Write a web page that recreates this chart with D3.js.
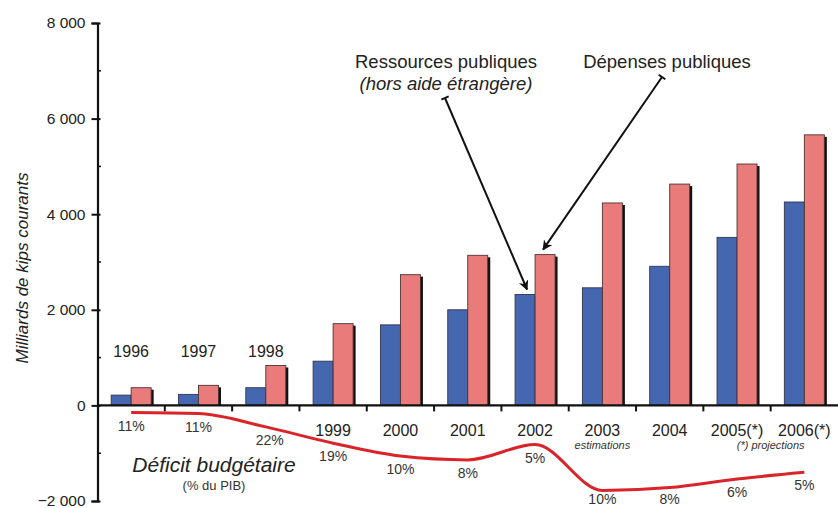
<!DOCTYPE html>
<html><head><meta charset="utf-8">
<script src="https://cdn.jsdelivr.net/npm/d3@7"></script>
<style>body{margin:0;background:#fff}svg{display:block;font-family:"Liberation Sans",Arial,sans-serif}</style>
</head><body><svg id="c" width="838" height="508"></svg>
<script>
const years = ["1996","1997","1998","1999","2000","2001","2002","2003","2004","2005(*)","2006(*)"];
const ressources = [215,230,370,925,1685,2000,2320,2460,2910,3515,4255];
const depenses = [370,420,835,1710,2735,3140,3155,4235,4630,5050,5660];
const deficit = [-150,-170,-450,-790,-1060,-1140,-820,-1780,-1720,-1540,-1400];
const deficitPct = ["11%","11%","22%","19%","10%","8%","5%","10%","8%","6%","5%"];
const yTicks = [-2000,0,2000,4000,6000,8000];
const yMinor = [-1000,1000,3000,5000,7000];

const svg = d3.select("#c");
const x = d3.scaleBand().domain(years).range([97.5,838]).paddingInner(0).paddingOuter(0);
const y = d3.scaleLinear().domain([-2000,8000]).range([501,23]);
const bw = 20;
const blue = "#4467b0", pink = "#e97b7b";

// y axis
const ya = svg.append("g").attr("transform","translate(97.5,0)")
  .call(d3.axisLeft(y).tickValues(yTicks).tickSize(6).tickFormat(v=>d3.format(",")(v).replace(","," ")));
ya.select(".domain").attr("stroke","#111").attr("stroke-width",2.2);
ya.selectAll(".tick line").attr("stroke","#111").attr("stroke-width",2).attr("x2",-6).attr("x1",3);
ya.selectAll(".tick text").attr("font-size",15.5).attr("fill","#222").attr("x",-12)
  .attr("font-family","'Liberation Sans',Arial,sans-serif");
svg.append("g").selectAll("line").data(yMinor).join("line")
  .attr("x1",97.5).attr("x2",101).attr("y1",d=>y(d)).attr("y2",d=>y(d)).attr("stroke","#111").attr("stroke-width",1.5);

// shadows + bars
const g = svg.append("g");
years.forEach((yr,i)=>{
  const cx = x(yr)+x.bandwidth()/2;
  g.append("rect").attr("x",cx-bw+2).attr("y",y(ressources[i])+2).attr("width",bw).attr("height",y(0)-y(ressources[i])-2).attr("fill","#111");
  g.append("rect").attr("x",cx-bw).attr("y",y(ressources[i])).attr("width",bw).attr("height",y(0)-y(ressources[i]))
    .attr("fill",blue).attr("stroke","#33334d").attr("stroke-width",0.9);
  g.append("rect").attr("x",cx+2.5).attr("y",y(depenses[i])+2).attr("width",bw).attr("height",y(0)-y(depenses[i])-2).attr("fill","#111");
  g.append("rect").attr("x",cx).attr("y",y(depenses[i])).attr("width",bw).attr("height",y(0)-y(depenses[i]))
    .attr("fill",pink).attr("stroke","#4d3333").attr("stroke-width",0.9);
});

// x axis line with ticks at boundaries
svg.append("line").attr("x1",97.5).attr("x2",838).attr("y1",y(0)).attr("y2",y(0)).attr("stroke","#111").attr("stroke-width",2.2);
svg.append("g").selectAll("line").data(years.slice(1)).join("line")
  .attr("x1",d=>x(d)).attr("x2",d=>x(d)).attr("y1",y(0)).attr("y2",y(0)+6).attr("stroke","#111").attr("stroke-width",2);

// year labels
svg.append("g").selectAll("text").data(years).join("text")
  .attr("x",d=>x(d)+x.bandwidth()/2)
  .attr("y",(d,i)=> i<3 ? 357 : 436)
  .attr("text-anchor","middle").attr("font-size",16).attr("fill","#222").text(d=>d);

svg.append("text").attr("x",x(years[7])+x.bandwidth()/2).attr("y",449).attr("text-anchor","middle")
  .attr("font-size",11).attr("font-style","italic").attr("fill","#333").text("estimations");
svg.append("text").attr("x",x(years[9])+x.bandwidth()).attr("y",449).attr("text-anchor","middle")
  .attr("font-size",11).attr("font-style","italic").attr("fill","#333").text("(*) projections");

// deficit line
const line = d3.line().x((d,i)=>x(years[i])+x.bandwidth()/2).y(d=>y(d)).curve(d3.curveMonotoneX);
svg.append("path").datum(deficit).attr("d",line).attr("fill","none").attr("stroke","#d9242a").attr("stroke-width",3);
svg.append("g").selectAll("text").data(deficitPct).join("text")
  .attr("x",(d,i)=>x(years[i])+x.bandwidth()/2+(i===2?4:0))
  .attr("y",(d,i)=>Math.min(y(deficit[i])+18,504))
  .attr("text-anchor","middle").attr("font-size",14).attr("fill","#333").text(d=>d);

svg.append("text").attr("x",214).attr("y",472).attr("text-anchor","middle").attr("font-size",21)
  .attr("font-style","italic").attr("fill","#222").text("Déficit budgétaire");
svg.append("text").attr("x",214).attr("y",490).attr("text-anchor","middle").attr("font-size",13)
  .attr("fill","#333").text("(% du PIB)");

// y title
svg.append("text").attr("transform","translate(28,268) rotate(-90)").attr("text-anchor","middle")
  .attr("font-size",17).attr("font-style","italic").attr("fill","#222").text("Milliards de kips courants");

// annotations
svg.append("text").attr("x",446).attr("y",68).attr("text-anchor","middle").attr("font-size",18.5).attr("fill","#222").text("Ressources publiques");
svg.append("text").attr("x",446).attr("y",90).attr("text-anchor","middle").attr("font-size",18.5).attr("font-style","italic").attr("fill","#222").text("(hors aide étrangère)");
svg.append("text").attr("x",667).attr("y",68).attr("text-anchor","middle").attr("font-size",18.5).attr("fill","#222").text("Dépenses publiques");

const defs = svg.append("defs");
defs.append("marker").attr("id","ah").attr("viewBox","0 0 10 10").attr("refX",9).attr("refY",5)
  .attr("markerWidth",5).attr("markerHeight",5).attr("orient","auto-start-reverse").attr("markerUnits","strokeWidth")
  .append("path").attr("d","M0,0 L10,5 L0,10 L3,5 Z").attr("fill","#111");
function arrow(x1,y1,x2,y2){
  svg.append("line").attr("x1",x1).attr("y1",y1).attr("x2",x2).attr("y2",y2)
    .attr("stroke","#111").attr("stroke-width",2).attr("marker-end","url(#ah)");
  const a = Math.atan2(y2-y1,x2-x1)+Math.PI/2;
  svg.append("line").attr("x1",x1-4*Math.cos(a)).attr("y1",y1-4*Math.sin(a)).attr("x2",x1+4*Math.cos(a)).attr("y2",y1+4*Math.sin(a))
    .attr("stroke","#111").attr("stroke-width",2);
}
const c02 = x(years[6])+x.bandwidth()/2;
arrow(445,98,c02-bw/2+2,y(ressources[6])-5);
arrow(662,77,c02+bw/2-2,y(depenses[6])-5);
</script></body></html>
